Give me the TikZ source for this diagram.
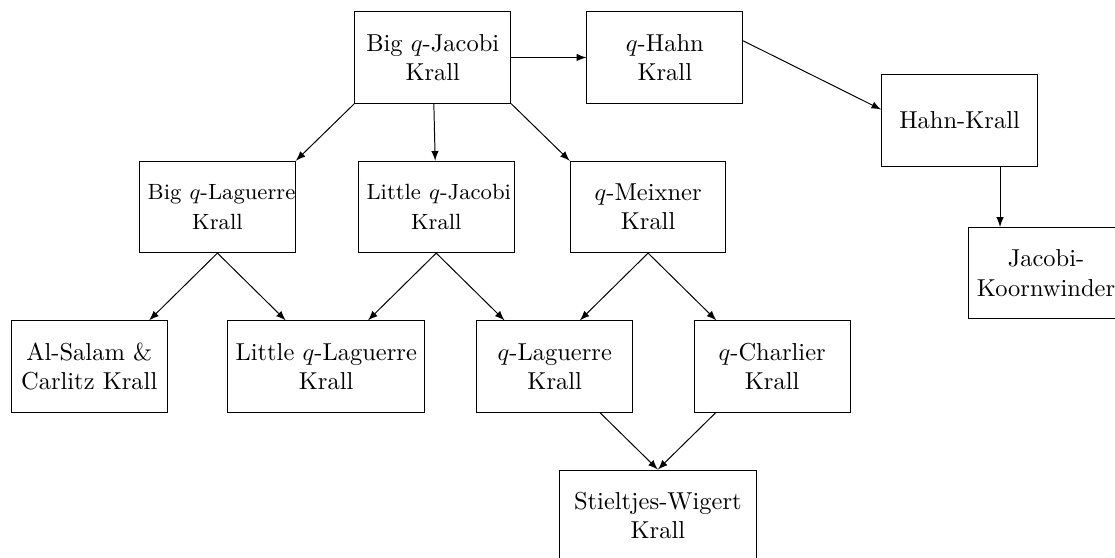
\documentclass[tikz,border=0pt]{standalone}
\usepackage{tikz}
\usetikzlibrary{shapes.geometric, arrows}
\tikzstyle{family} = [rectangle, text width=2cm, minimum height=1.31cm, text centered, draw=black]
\tikzstyle{widefamily} = [family, text width=2.6cm]
\tikzstyle{link} = [->, >=latex]
\usetikzlibrary{positioning, calc}

\begin{document}
\begin{tikzpicture}
        \useasboundingbox (0,0) rectangle (16,8);
        \node[family] (bigJacobi) at (6.21,7.175) {Big $q$-Jacobi\\Krall};
        \node[family] (qHahn) at (9.54,7.175) {$q$-Hahn\\Krall};
        \node[family] (hahn) at (13.77,6.27) {Hahn-Krall};
        \node[family] (jacobiK) at (15.01,4.08) {Jacobi-\\Koornwinder};
        \node[family] (bigLaguerre) at (3.12,5.03) {{\small \mbox{Big $q$-Laguerre}\\Krall}};
        \node[family] (littleJacobi) at (6.26,5.03) {{\small \mbox{Little $q$-Jacobi}\\Krall}};
        \node[family] (qMeixner) at (9.30,5.03) {$q$-Meixner\\Krall};
        \node[family] (alSalam) at (1.28,2.74) {Al-Salam \&\\Carlitz Krall};
        \node[widefamily] (littleLaguerre) at (4.68,2.74) {\mbox{Little $q$-Laguerre}\\Krall};
        \node[family] (qLaguerre) at (7.96,2.74) {$q$-Laguerre\\Krall};
        \node[family] (qCharlier) at (11.08,2.74) {$q$-Charlier\\Krall};
        \node[widefamily] (stieltjes) at (9.44,0.60) {\mbox{Stieltjes-Wigert}\\Krall};

        \draw[link] (bigJacobi.east) -- (qHahn.west);
        \draw[link] (qHahn.12) -- (hahn.172);
        \draw[link] ([xshift=0.58cm]hahn.south) -- ([xshift=0.58cm]hahn.south |- jacobiK.north);
        \draw[link] (bigJacobi.south west) -- (bigLaguerre.north east);
        \draw[link] (bigJacobi) -- (littleJacobi);
        \draw[link] (bigJacobi.south east) -- (qMeixner.north west);
        \draw[link] (bigLaguerre.south) -- ([xshift=-0.98cm]bigLaguerre.south |- alSalam.north);
        \draw[link] (bigLaguerre.south) -- ([xshift=0.98cm]bigLaguerre.south |- littleLaguerre.north);
        \draw[link] (littleJacobi.south) -- ([xshift=-0.98cm]littleJacobi.south |- littleLaguerre.north);
        \draw[link] (littleJacobi.south) -- ([xshift=0.98cm]littleJacobi.south |- qLaguerre.north);
        \draw[link] (qMeixner.south) -- ([xshift=-0.98cm]qMeixner.south |- qLaguerre.north);
        \draw[link] (qMeixner.south) -- ([xshift=0.98cm]qMeixner.south |- qCharlier.north);
        \draw[link] ([xshift=-0.83cm]stieltjes.north |- qLaguerre.south) -- (stieltjes.north);
        \draw[link] ([xshift=0.83cm]stieltjes.north |- qCharlier.south) -- (stieltjes.north);
    \end{tikzpicture}
\end{document}
